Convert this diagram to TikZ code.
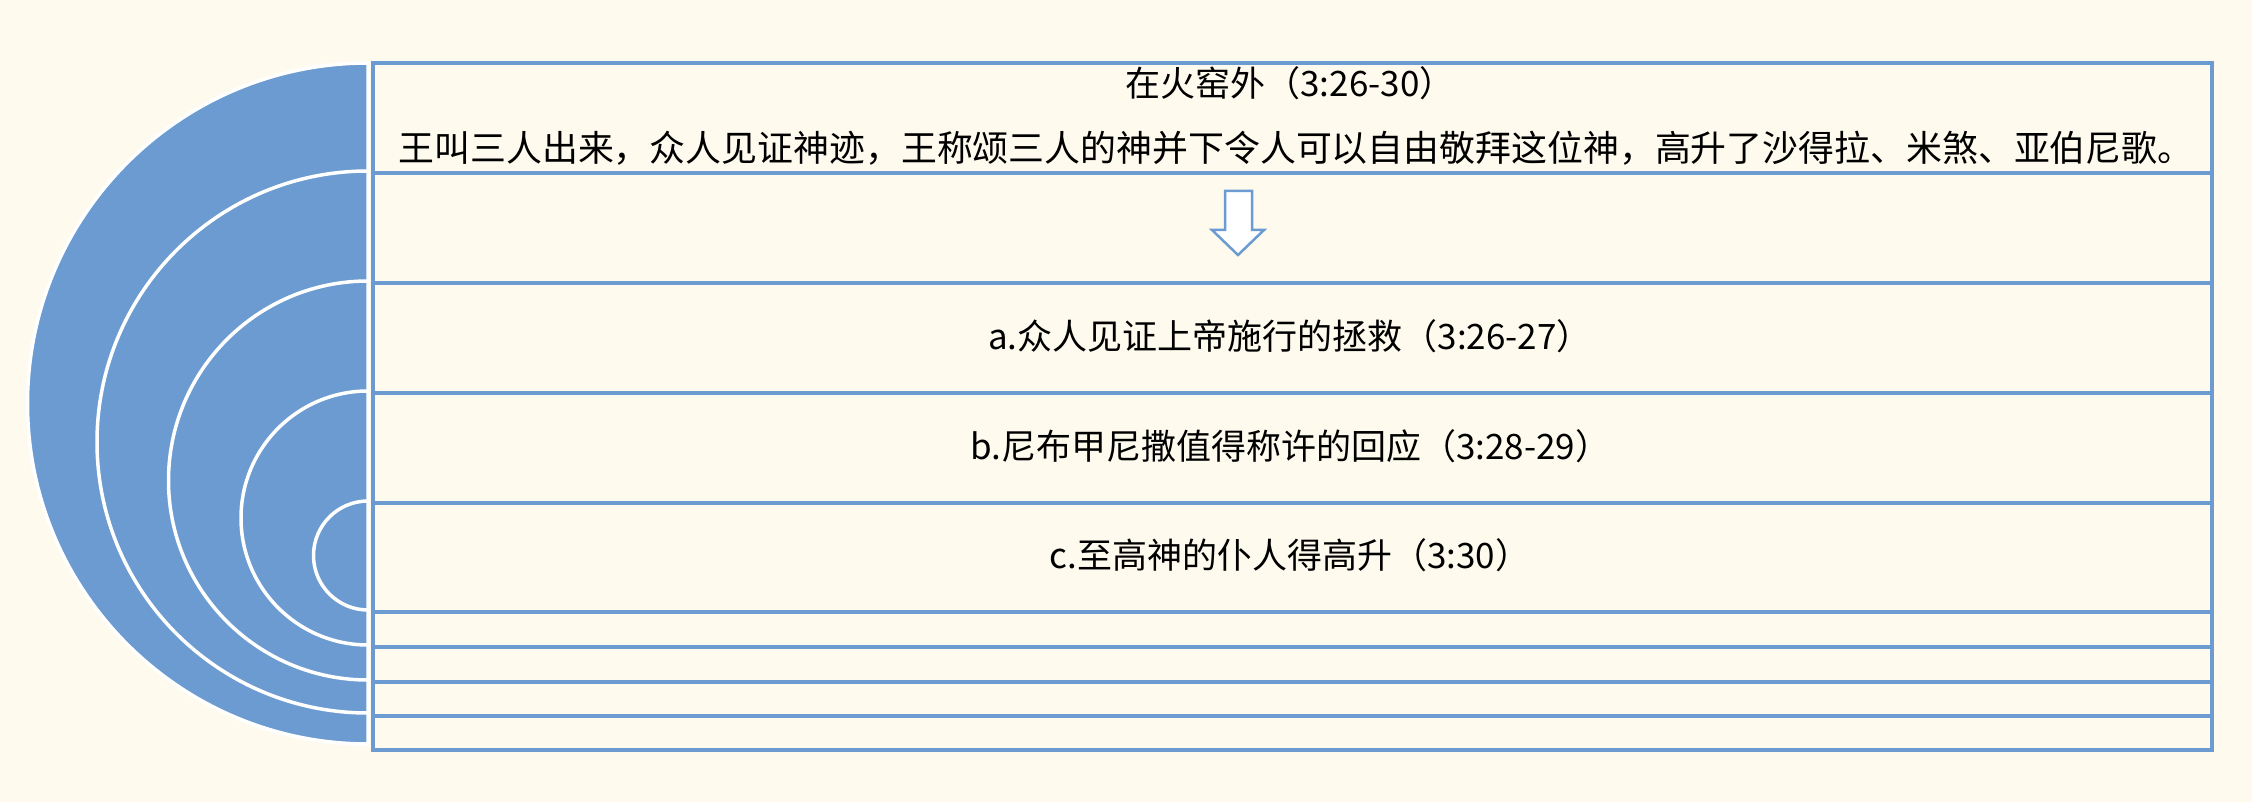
\documentclass[tikz,border=0pt]{standalone}
\usepackage{fontspec}
\setmainfont{Noto Sans CJK SC}
\definecolor{bg}{RGB}{254,251,238}
\definecolor{blu}{RGB}{107,155,208}
\begin{document}
\begin{tikzpicture}[x=1pt,y=-1pt,
  rowbox/.style={draw=blu, line width=3.8pt, fill=bg, rectangle, inner sep=0pt, anchor=north west, minimum width=1839pt},
  txt/.style={font=\fontsize{35}{40}\selectfont, inner sep=0pt, text=black},
  ring/.style={fill=blu, draw=white, line width=3.5pt},
  arrowshape/.style={fill=white, draw=blu, line width=2.5pt, line join=miter}]
\fill[bg] (0,0) rectangle (2252,802);
\useasboundingbox (0,0) rectangle (2252,802);
% nested semicircles
\draw[ring] (368,63) arc[start angle=-90, end angle=-270, radius=340.5] -- cycle;
\draw[ring] (368,171) arc[start angle=-90, end angle=-270, radius=271] -- cycle;
\draw[ring] (368,281) arc[start angle=-90, end angle=-270, radius=199.5] -- cycle;
\draw[ring] (368,391) arc[start angle=-90, end angle=-270, radius=127] -- cycle;
\draw[ring] (368,501) arc[start angle=-90, end angle=-270, radius=54.5] -- cycle;
% rows
\node[rowbox, minimum height=110pt] (r1) at (371,61) {};
\node[rowbox, minimum height=110pt] (r2) at (371,171) {};
\node[rowbox, minimum height=110pt] (r3) at (371,281) {};
\node[rowbox, minimum height=110pt] (r4) at (371,391) {};
\node[rowbox, minimum height=109pt] (r5) at (371,501) {};
\node[rowbox, minimum height=35pt] (r6) at (371,610) {};
\node[rowbox, minimum height=35pt] (r7) at (371,645) {};
\node[rowbox, minimum height=34pt] (r8) at (371,680) {};
\node[rowbox, minimum height=34pt] (r9) at (371,714) {};
% texts
\node[txt] (t1) at (1290,83) {在火窑外（3:26-30）};
\node[txt, font=\fontsize{35.9}{40}\selectfont] (t2) at (1296,148) {王叫三人出来，众人见证神迹，王称颂三人的神并下令人可以自由敬拜这位神，高升了沙得拉、米煞、亚伯尼歌。};
\node[txt] (ta) at (1290,336) {a.众人见证上帝施行的拯救（3:26-27）};
\node[txt] (tb) at (1290,446) {b.尼布甲尼撒值得称许的回应（3:28-29）};
\node[txt] (tc) at (1290,555) {c.至高神的仆人得高升（3:30）};
% down arrow
\draw[arrowshape] (1225,191) -- (1252,191) -- (1252,230) -- (1264,230) -- (1238,255) -- (1212,230) -- (1225,230) -- cycle;
\end{tikzpicture}
\end{document}
